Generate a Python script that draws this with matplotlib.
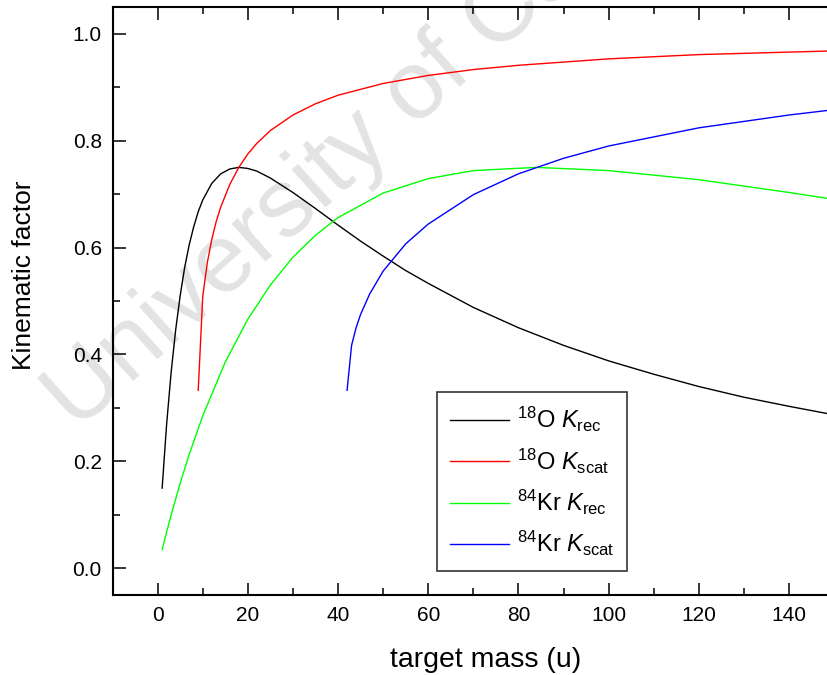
import matplotlib
matplotlib.use("Agg")
import matplotlib.pyplot as plt
from matplotlib.ticker import MultipleLocator

plt.rcParams['font.family'] = ['Liberation Sans', 'DejaVu Sans']
plt.rcParams['mathtext.fontset'] = 'custom'
plt.rcParams['mathtext.rm'] = 'Liberation Sans'
plt.rcParams['mathtext.it'] = 'Liberation Sans:italic'

# kinematic factors vs target mass, 18O and 84Kr beams
m_o_rec = [1, 2, 3, 4, 5, 6, 7, 8, 9, 10, 12, 14, 16, 18, 20, 22, 25, 30, 35, 40,
           45, 50, 55, 60, 70, 80, 90, 100, 110, 120, 130, 140, 150]
k_o_rec = [0.150, 0.270, 0.367, 0.446, 0.510, 0.563, 0.605, 0.639, 0.667, 0.689,
           0.720, 0.738, 0.747, 0.750, 0.748, 0.743, 0.730, 0.703, 0.673, 0.642,
           0.612, 0.584, 0.557, 0.533, 0.488, 0.450, 0.417, 0.388, 0.363, 0.340,
           0.320, 0.303, 0.287]

m_o_scat = [9, 10, 11, 12, 13, 14, 16, 18, 20, 22, 25, 30, 35, 40, 50, 60, 70, 80,
            100, 120, 150]
k_o_scat = [0.333, 0.508, 0.571, 0.615, 0.649, 0.676, 0.718, 0.750, 0.775, 0.795,
            0.819, 0.848, 0.869, 0.885, 0.907, 0.922, 0.933, 0.941, 0.953, 0.961,
            0.968]

m_kr_rec = [1, 2, 3, 5, 7, 10, 15, 20, 25, 30, 35, 40, 50, 60, 70, 84, 100, 120,
            140, 150]
k_kr_rec = [0.035, 0.068, 0.100, 0.159, 0.213, 0.285, 0.386, 0.466, 0.530, 0.582,
            0.623, 0.656, 0.702, 0.729, 0.744, 0.750, 0.744, 0.727, 0.703, 0.690]

m_kr_scat = [42, 43, 44, 45, 47, 50, 55, 60, 70, 80, 90, 100, 120, 140, 150]
k_kr_scat = [0.333, 0.417, 0.450, 0.475, 0.513, 0.556, 0.607, 0.644, 0.699, 0.738,
             0.767, 0.790, 0.824, 0.848, 0.858]

labels = [r'$^{18}$O $K_{\mathrm{rec}}$', r'$^{18}$O $K_{\mathrm{scat}}$',
          r'$^{84}$Kr $K_{\mathrm{rec}}$', r'$^{84}$Kr $K_{\mathrm{scat}}$']
colors = ['black', '#ff0000', '#00ff00', '#0000ff']

fig = plt.figure(figsize=(8.27, 6.75), dpi=100)
ax = fig.add_axes([0.1366, 0.1185, 0.8634, 0.8711])

series = [(m_o_rec, k_o_rec), (m_o_scat, k_o_scat),
          (m_kr_rec, k_kr_rec), (m_kr_scat, k_kr_scat)]
for (m, k), c, lab in zip(series, colors, labels):
    ax.plot(m, k, color=c, lw=1.0, label=lab, zorder=2)

# watermark
ax.text(0.093, 0.36, 'University of Cape Town', transform=fig.transFigure,
        rotation=42, rotation_mode='anchor', ha='left', va='baseline',
        fontsize=70, color='#e3e3e3', zorder=0.5, clip_on=False)

ax.set_xlim(-9.9, 148.4)
ax.set_ylim(-0.05, 1.05)
ax.xaxis.set_major_locator(MultipleLocator(20))
ax.xaxis.set_minor_locator(MultipleLocator(10))
ax.yaxis.set_major_locator(MultipleLocator(0.2))
ax.yaxis.set_minor_locator(MultipleLocator(0.1))
ax.yaxis.set_major_formatter(plt.FormatStrFormatter('%.1f'))
ax.tick_params(which='both', direction='in', top=True, right=False,
               width=1.1, labelsize=15, pad=8)
ax.tick_params(which='major', length=9)
ax.tick_params(which='minor', length=5)
for s in ['left', 'bottom', 'top']:
    ax.spines[s].set_linewidth(1.5)
ax.spines['right'].set_visible(False)

ax.set_xlabel('target mass (u)', fontsize=20.5, va='baseline')
ax.set_ylabel('Kinematic factor', fontsize=19, va='center', ha='center')
ax.xaxis.set_label_coords(0.522, -0.1224)
ax.yaxis.set_label_coords(-0.1246, 0.544)

leg = ax.legend(loc='upper left', bbox_to_anchor=(0.529, 0.419),
                bbox_transform=fig.transFigure, fontsize=17,
                frameon=True, fancybox=False, edgecolor='black',
                handlelength=2.5, handletextpad=0.3, labelspacing=0.52,
                borderpad=0.55, borderaxespad=0)
leg.get_frame().set_linewidth(1.2)

fig.savefig('out.png', dpi=100)
